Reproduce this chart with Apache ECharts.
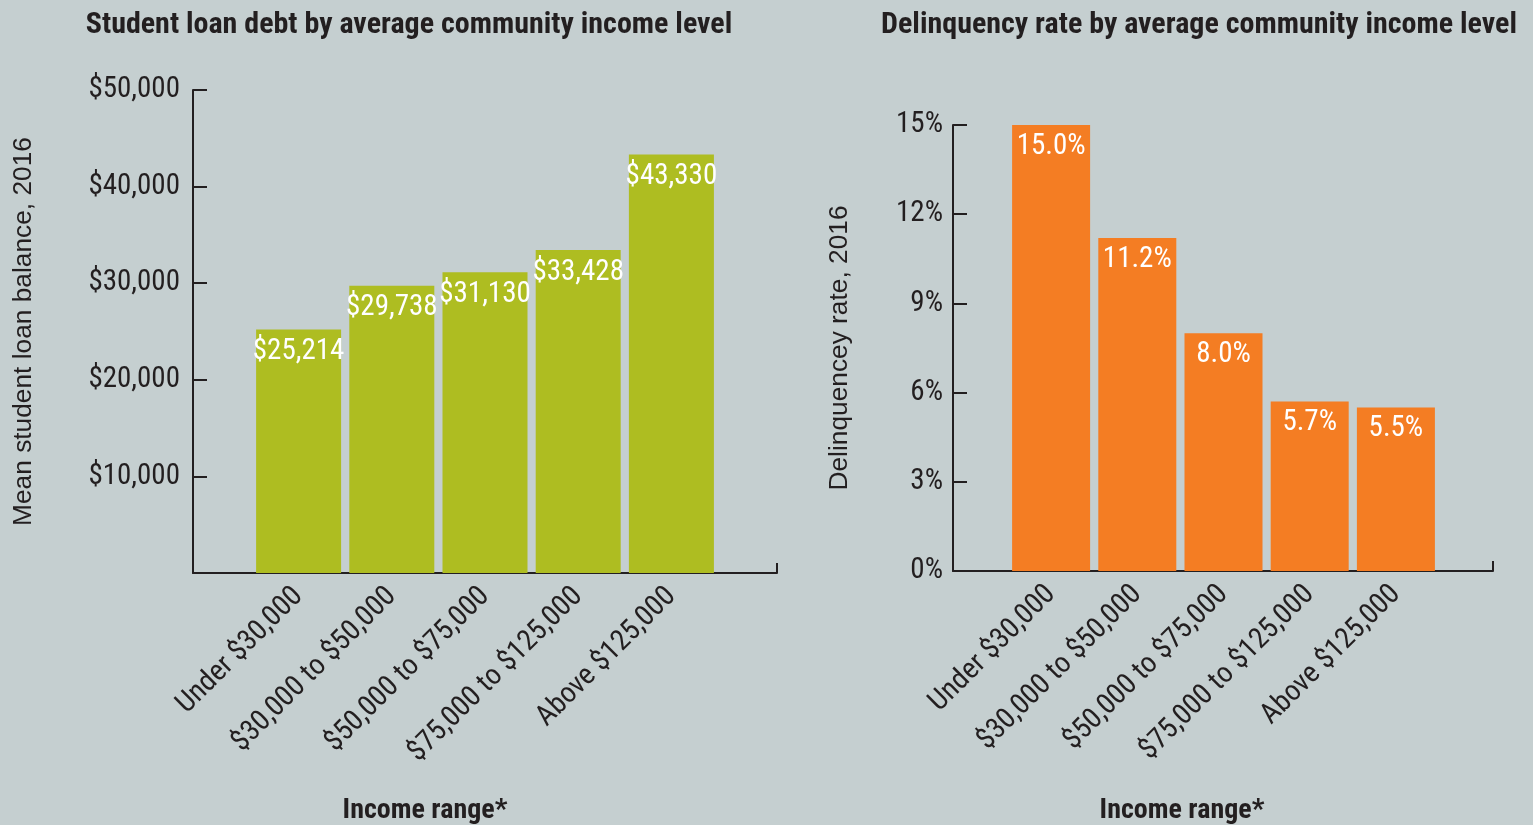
<!DOCTYPE html>
<html>
<head>
<meta charset="utf-8">
<script src="https://cdn.jsdelivr.net/npm/echarts@6/dist/echarts.min.js"></script>
<style>
html,body{margin:0;padding:0;background:#c5cfd0;}
#c{width:1533px;height:825px;}
</style>
</head>
<body>
<div id="c"></div>
<script>
var categories = ['Under $30,000', '$30,000 to $50,000', '$50,000 to $75,000', '$75,000 to $125,000', 'Above $125,000'];
var loanBalance = [25214, 29738, 31130, 33428, 43330];
var delinquency = [15.0, 11.2, 8.0, 5.7, 5.5];
var loanTicks = [0, 10000, 20000, 30000, 40000, 50000];
var rateTicks = [0, 3, 6, 9, 12, 15];

(function(){
var NARROW = "'Roboto Condensed', 'Liberation Sans Narrow', 'DejaVu Sans Condensed', sans-serif";
var REG = "'Liberation Sans', Arial, sans-serif";
var DARK = '#231f20';
var GREEN = '#aebd21';
var ORANGE = '#f47d23';

var chart = echarts.init(document.getElementById('c'), null, {renderer: 'canvas'});

var topL = 90;
var bottomL = 825 - 573;
var topR = 125;
var bottomR = 825 - 571;

function fmtMoney(v){ return '$' + v.toLocaleString('en-US'); }

var option = {
  backgroundColor: '#c5cfd0',
  animation: false,
  title: [
    {text: 'Student loan debt by average community income level', left: 404, top: 5, textAlign: 'center',
     textStyle: {fontFamily: NARROW, fontWeight: 'bold', fontSize: 30, color: DARK}},
    {text: 'Delinquency rate by average community income level', left: 1194, top: 5, textAlign: 'center',
     textStyle: {fontFamily: NARROW, fontWeight: 'bold', fontSize: 30, color: DARK}},
    {text: 'Income range*', left: 420, top: 792, textAlign: 'center',
     textStyle: {fontFamily: NARROW, fontWeight: 'bold', fontSize: 28, color: DARK}},
    {text: 'Income range*', left: 1177, top: 792, textAlign: 'center',
     textStyle: {fontFamily: NARROW, fontWeight: 'bold', fontSize: 28, color: DARK}}
  ],
  grid: [
    {left: 193, width: 584, top: topL, bottom: bottomL},
    {left: 953, width: 540, top: topR, bottom: bottomR},
    {left: 252, width: 466, top: topL, bottom: bottomL},
    {left: 1008, width: 431, top: topR, bottom: bottomR}
  ],
  xAxis: [
    {gridIndex: 0, type: 'value', min: 0, max: 1, interval: 1,
     axisLine: {show: true, lineStyle: {color: DARK, width: 2}},
     axisTick: {show: true, inside: true, length: 10, lineStyle: {color: DARK, width: 2}},
     axisLabel: {show: false}, splitLine: {show: false}},
    {gridIndex: 1, type: 'value', min: 0, max: 1, interval: 1,
     axisLine: {show: true, lineStyle: {color: DARK, width: 2}},
     axisTick: {show: true, inside: true, length: 10, lineStyle: {color: DARK, width: 2}},
     axisLabel: {show: false}, splitLine: {show: false}},
    {gridIndex: 2, type: 'category', data: categories,
     axisLine: {show: false}, axisTick: {show: false},
     axisLabel: {rotate: 45, margin: 19, fontFamily: NARROW, fontSize: 29, color: DARK, interval: 0}},
    {gridIndex: 3, type: 'category', data: categories,
     axisLine: {show: false}, axisTick: {show: false},
     axisLabel: {rotate: 45, margin: 19, fontFamily: NARROW, fontSize: 29, color: DARK, interval: 0}}
  ],
  yAxis: [
    {gridIndex: 0, type: 'value', min: loanTicks[0], max: loanTicks[loanTicks.length-1], interval: loanTicks[1]-loanTicks[0],
     name: 'Mean student loan balance, 2016', nameLocation: 'middle', nameGap: 156, nameRotate: 90,
     nameTextStyle: {fontFamily: REG, fontSize: 26.3, color: DARK},
     axisLine: {show: true, lineStyle: {color: DARK, width: 2}},
     axisTick: {show: true, inside: true, length: 14, lineStyle: {color: DARK, width: 2}},
     axisLabel: {margin: 13, fontFamily: NARROW, fontSize: 29, color: DARK, padding: [6, 0, 0, 0],
       formatter: function(v){ return v === 0 ? '' : fmtMoney(v); }},
     splitLine: {show: false}},
    {gridIndex: 1, type: 'value', min: rateTicks[0], max: rateTicks[rateTicks.length-1], interval: rateTicks[1]-rateTicks[0],
     name: 'Delinquencey rate, 2016', nameLocation: 'middle', nameGap: 100, nameRotate: 90,
     nameTextStyle: {fontFamily: REG, fontSize: 26.3, color: DARK},
     axisLine: {show: true, lineStyle: {color: DARK, width: 2}},
     axisTick: {show: true, inside: true, length: 14, lineStyle: {color: DARK, width: 2}},
     axisLabel: {margin: 10, fontFamily: NARROW, fontSize: 29, color: DARK, padding: [5, 0, 0, 0],
       formatter: function(v){ return v + '%'; }},
     splitLine: {show: false}},
    {gridIndex: 2, type: 'value', min: loanTicks[0], max: loanTicks[loanTicks.length-1], show: false},
    {gridIndex: 3, type: 'value', min: rateTicks[0], max: rateTicks[rateTicks.length-1], show: false}
  ],
  series: [
    {type: 'bar', xAxisIndex: 2, yAxisIndex: 2, data: loanBalance, barWidth: 85,
     itemStyle: {color: GREEN},
     label: {show: true, position: 'insideTop', distance: 8, color: '#fff', fontFamily: NARROW, fontSize: 29,
       formatter: function(p){ return fmtMoney(p.value); }}},
    {type: 'bar', xAxisIndex: 3, yAxisIndex: 3, data: delinquency, barWidth: 78,
     itemStyle: {color: ORANGE},
     label: {show: true, position: 'insideTop', distance: 7, color: '#fff', fontFamily: NARROW, fontSize: 29,
       formatter: function(p){ return p.value.toFixed(1) + '%'; }}}
  ]
};
chart.setOption(option);
})();
</script>
</body>
</html>
